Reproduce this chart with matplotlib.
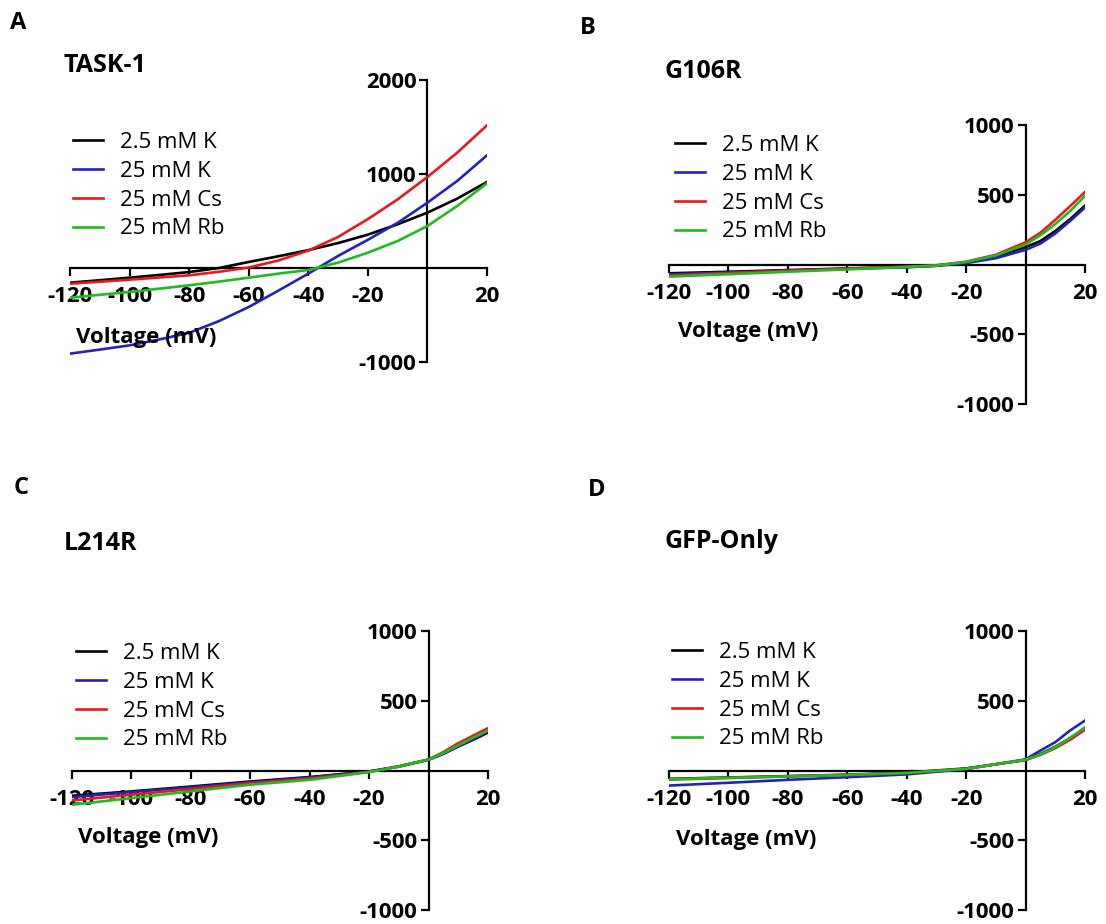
import matplotlib
matplotlib.use("Agg")
import matplotlib.pyplot as plt

plt.rcParams['font.family'] = ['Open Sans', 'DejaVu Sans']
plt.rcParams['axes.unicode_minus'] = False

W, H = 1106, 924

labels = ['2.5 mM K', '25 mM K', '25 mM Cs', '25 mM Rb']
colors = ['#000000', '#2323b8', '#e8191e', '#20bb20']

# Panel A: TASK-1
volt_a = [-120, -110, -100, -90, -80, -70, -60, -50, -40, -30, -20, -10, 0, 10, 20]
task1_k25 = [-156, -130, -103, -74, -43, 0, 64, 125, 190, 265, 355, 465, 589, 738, 915]
task1_k = [-911, -868, -823, -760, -690, -565, -415, -240, -60, 128, 300, 480, 695, 926, 1199]
task1_cs = [-167, -146, -124, -101, -78, -40, 5, 80, 185, 330, 520, 730, 968, 1227, 1518]
task1_rb = [-316, -285, -255, -220, -184, -145, -103, -60, -21, 57, 163, 287, 447, 660, 901]

# Panel B: G106R
volt_b = [-120, -100, -80, -60, -40, -30, -20, -10, 0, 5, 10, 15, 20]
g106r_k25 = [-63, -52, -40, -28, -17, -8, 15, 58, 124, 168, 240, 325, 422]
g106r_k = [-70, -57, -44, -31, -20, -10, 10, 45, 105, 150, 222, 312, 408]
g106r_cs = [-80, -62, -45, -30, -15, -5, 20, 70, 159, 228, 320, 418, 520]
g106r_rb = [-87, -70, -52, -35, -18, -8, 18, 65, 143, 210, 290, 383, 492]

# Panel C: L214R
volt_c = [-120, -100, -80, -60, -40, -20, -10, 0, 5, 10, 15, 20]
l214r_k25 = [-181, -150, -115, -79, -47, -7, 29, 77, 120, 172, 220, 272]
l214r_k = [-191, -155, -120, -85, -50, -8, 28, 77, 120, 175, 225, 280]
l214r_cs = [-215, -174, -133, -92, -58, -10, 30, 80, 132, 196, 250, 304]
l214r_rb = [-246, -198, -150, -102, -67, -12, 28, 78, 125, 180, 235, 287]

# Panel D: GFP-Only
volt_d = [-120, -100, -80, -60, -40, -20, -10, 0, 5, 10, 15, 20]
gfp_k25 = [-60, -50, -40, -30, -15, 15, 45, 75, 118, 170, 232, 298]
gfp_k = [-108, -88, -67, -48, -28, 10, 45, 80, 143, 203, 287, 358]
gfp_cs = [-65, -54, -43, -32, -18, 12, 45, 75, 112, 160, 220, 292]
gfp_rb = [-62, -52, -42, -32, -17, 12, 45, 77, 115, 167, 234, 310]

xticks = [-120, -100, -80, -60, -40, -20, 20]


def fx(x):
    return x / W


def fy(y):
    return 1 - y / H


def panel(fig, left, right, top, bottom, ylim, yticks, volt, series,
          letter, letter_xy, title, title_xy, xlabel_xy, leg_xy):
    ax = fig.add_axes([fx(left), fy(bottom), fx(right - left), (bottom - top) / H])
    for vals, c, lab in zip(series, colors, labels):
        ax.plot(volt, vals, color=c, lw=1.9, label=lab, zorder=3)
    ax.set_xlim(-120, 20)
    ax.set_ylim(*ylim)
    ax.patch.set_alpha(0)
    for s in ['top', 'right']:
        ax.spines[s].set_visible(False)
    ax.spines['left'].set_position(('data', 0))
    ax.spines['bottom'].set_position(('data', 0))
    for s in ['left', 'bottom']:
        ax.spines[s].set_linewidth(1.6)
    ax.set_xticks(xticks)
    ax.set_yticks(yticks)
    ax.tick_params(axis='x', length=6, width=1.6, labelsize=16, pad=7)
    ax.tick_params(axis='y', length=6, width=1.6, labelsize=16, pad=2)
    for t in ax.get_xticklabels() + ax.get_yticklabels():
        t.set_fontweight('bold')
    fig.text(fx(letter_xy[0]), fy(letter_xy[1]), letter, fontsize=17,
             fontweight='bold', va='center', ha='left')
    fig.text(fx(title_xy[0]), fy(title_xy[1]), title, fontsize=18,
             fontweight='bold', va='center', ha='left')
    fig.text(fx(xlabel_xy[0]), fy(xlabel_xy[1]), 'Voltage (mV)', fontsize=16,
             fontweight='bold', va='center', ha='left')
    ax.legend(loc='upper left', bbox_to_anchor=(fx(leg_xy[0]), fy(leg_xy[1])),
              bbox_transform=fig.transFigure, frameon=False, borderpad=0,
              borderaxespad=0, fontsize=16, handlelength=1.35,
              handletextpad=0.75, labelspacing=0.35)
    return ax


fig = plt.figure(figsize=(W / 100, H / 100), dpi=100)

panel(fig, 70, 487, 80, 362, (-1000, 2000), [-1000, 1000, 2000], volt_a,
      [task1_k25, task1_k, task1_cs, task1_rb],
      'A', (10, 23), 'TASK-1', (63, 66), (76, 337), (73, 132))
panel(fig, 669, 1085, 125, 404, (-1000, 1000), [-1000, -500, 500, 1000], volt_b,
      [g106r_k25, g106r_k, g106r_cs, g106r_rb],
      'B', (580, 28), 'G106R', (665, 71), (678, 332), (675, 135))
panel(fig, 71.5, 488, 631, 910, (-1000, 1000), [-1000, -500, 500, 1000], volt_c,
      [l214r_k25, l214r_k, l214r_cs, l214r_rb],
      'C', (14, 488), 'L214R', (64, 543), (78, 838), (76, 643))
panel(fig, 669, 1085, 631, 910, (-1000, 1000), [-1000, -500, 500, 1000], volt_d,
      [gfp_k25, gfp_k, gfp_cs, gfp_rb],
      'D', (588, 490), 'GFP-Only', (665, 542), (676, 840), (672, 642))

fig.savefig('out.png', dpi=100)
